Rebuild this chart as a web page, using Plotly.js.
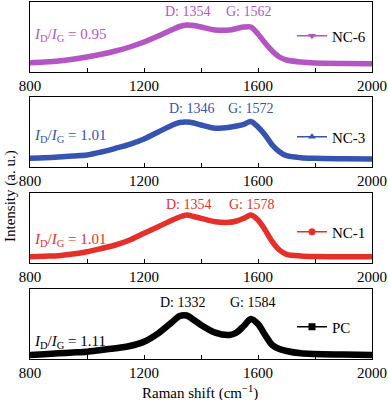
<!DOCTYPE html>
<html>
<head>
<meta charset="utf-8">
<script src="https://cdn.plot.ly/plotly-3.0.1.min.js"></script>
<style>html,body{margin:0;padding:0;background:#fff;}#chart{width:388px;height:400px;}</style>
</head>
<body>
<div id="chart"></div>
<script>
const wavenumber = [800,850,900,950,1000,1050,1100,1150,1200,1250,1300,1325,1350,1375,1400,1450,1500,1525,1550,1575,1600,1625,1650,1675,1700,1750,1800,1900,2000];
const nc6 = [9.3,10,11,12.7,15,17.7,21,25,30,36,42.5,45.5,47,46.5,45,42,42,43.5,45,45,38,29,21,15,12,10,9,8.5,8.3];
const nc3 = [8.7,9.2,10,11,12,15,18.7,22.7,28,35,42,44.5,45,44,42,38.7,39.7,41,42.7,45.5,40,32,22,15.3,11.3,9.3,8.7,8.3,8];
const nc1 = [6.3,6.8,7.3,9,11.3,14.5,18,23,29.7,36.3,43,46,48,46.5,44.7,41.3,40.7,42,44.7,48,43,33,21.3,13,8.7,7,6.5,6.3,6.3];
const pc  = [4,4.8,5.7,6.5,7.3,9,10.7,13,17.3,25.7,37.3,43,43.5,39,34,26.3,24,26.5,33,40,35,24,14,10,8,5.7,5,4.5,4];

const seriesNames = ['NC-6','NC-3','NC-1','PC'];
const seriesData = [nc6, nc3, nc1, pc];
const seriesColors = ['#b455c4','#3653b0','#e5302a','#000000'];
const seriesSymbols = ['triangle-down','triangle-up','circle','square'];
const dLabels = ['D: 1354','D: 1346','D: 1354','D: 1332'];
const gLabels = ['G: 1562','G: 1572','G: 1578','G: 1584'];
const ratios = ['0.95','1.01','1.01','1.11'];
const tickVals = [800,1000,1200,1400,1600,1800,2000];
const tickText = ['800','','1200','','1600','','2000'];

const FONT = 'Liberation Serif, Times New Roman, serif';
const panels = [[2,72],[97,167],[193,263],[289,359]];
const mT = 2, mB = 41, H = 400;
const plotH = H - mT - mB;
const toPaperY = py => (H - mB - py) / plotH;
const plotL = 30, plotR = 372;
const toPaperX = px => (px - plotL) / (plotR - plotL);

const dPos = [[188,11],[192,108],[189,204],[183,302]];
const gPos = [[249,11],[251,108],[252,204],[253,302]];
const rPos = [[32,35],[32,136],[32,240],[32,342]];
const legPos = [[292,36],[292,137],[292,232],[292,327]];
const lineW = [5.5,5.5,5.5,6.5];

const traces = [];
const layout = {
  width: 388, height: 400,
  margin: {l: plotL, r: 388 - plotR, t: mT, b: mB},
  paper_bgcolor: '#fff', plot_bgcolor: '#fff',
  font: {family: FONT, size: 15, color: '#000'},
  showlegend: true,
  annotations: []
};

for (let i = 0; i < 4; i++) {
  const sfx = i === 0 ? '' : String(i + 1);
  const xa = 'x' + sfx, ya = 'y' + sfx;
  const leg = i === 0 ? 'legend' : 'legend' + (i + 1);
  traces.push({
    x: wavenumber, y: seriesData[i], xaxis: xa, yaxis: ya,
    mode: 'lines', line: {color: seriesColors[i], width: lineW[i], shape: 'spline', smoothing: 0.8},
    showlegend: false, hoverinfo: 'skip'
  });
  traces.push({
    x: [null], y: [null], xaxis: xa, yaxis: ya, name: seriesNames[i], legend: leg,
    mode: 'lines+markers', line: {color: seriesColors[i], width: 1.5},
    marker: {symbol: seriesSymbols[i], size: 7, color: seriesColors[i]}
  });
  const [top, bot] = panels[i];
  layout['xaxis' + sfx] = {
    domain: [0, 1], anchor: ya, range: [800, 2000],
    tickmode: 'array', tickvals: tickVals, ticktext: tickText,
    ticks: 'inside', ticklen: 4, tickcolor: '#000', tickwidth: 1,
    showline: true, linecolor: '#000', linewidth: 1, mirror: true,
    showgrid: false, zeroline: false,
    tickfont: {family: FONT, size: 15, color: '#000'}
  };
  layout['yaxis' + sfx] = {
    domain: [toPaperY(bot), toPaperY(top)], anchor: xa, range: [0, 70],
    showticklabels: false, ticks: '', showgrid: false, zeroline: false,
    showline: true, linecolor: '#000', linewidth: 1, mirror: true
  };
  layout[leg] = {
    x: toPaperX(legPos[i][0]), y: toPaperY(legPos[i][1]), xanchor: 'left', yanchor: 'middle',
    bgcolor: 'rgba(0,0,0,0)', borderwidth: 0,
    font: {family: FONT, size: 15, color: '#000'},
    itemwidth: 30, tracegroupgap: 0
  };
  layout.annotations.push(
    {xref: 'paper', yref: 'paper', x: toPaperX(dPos[i][0]), y: toPaperY(dPos[i][1]),
     text: dLabels[i], showarrow: false, xanchor: 'center', yanchor: 'middle',
     font: {family: FONT, size: 14, color: seriesColors[i]}},
    {xref: 'paper', yref: 'paper', x: toPaperX(gPos[i][0]), y: toPaperY(gPos[i][1]),
     text: gLabels[i], showarrow: false, xanchor: 'center', yanchor: 'middle',
     font: {family: FONT, size: 14, color: seriesColors[i]}},
    {xref: 'paper', yref: 'paper', x: toPaperX(rPos[i][0]), y: toPaperY(rPos[i][1]),
     text: '<i>I</i><sub>D</sub>/<i>I</i><sub>G</sub> = ' + ratios[i], showarrow: false,
     xanchor: 'left', yanchor: 'middle',
     font: {family: FONT, size: 15, color: seriesColors[i]}}
  );
}

layout.annotations.push(
  {xref: 'paper', yref: 'paper', x: toPaperX(200), y: toPaperY(392),
   text: 'Raman shift (cm<sup>−1</sup>)', showarrow: false, xanchor: 'center', yanchor: 'middle',
   font: {family: FONT, size: 15, color: '#000'}},
  {xref: 'paper', yref: 'paper', x: toPaperX(10), y: toPaperY(196),
   text: 'Intensity (a. u.)', showarrow: false, textangle: -90, xanchor: 'center', yanchor: 'middle',
   font: {family: FONT, size: 15, color: '#000'}}
);

Plotly.newPlot('chart', traces, layout, {displayModeBar: false, staticPlot: true});
</script>
</body>
</html>
